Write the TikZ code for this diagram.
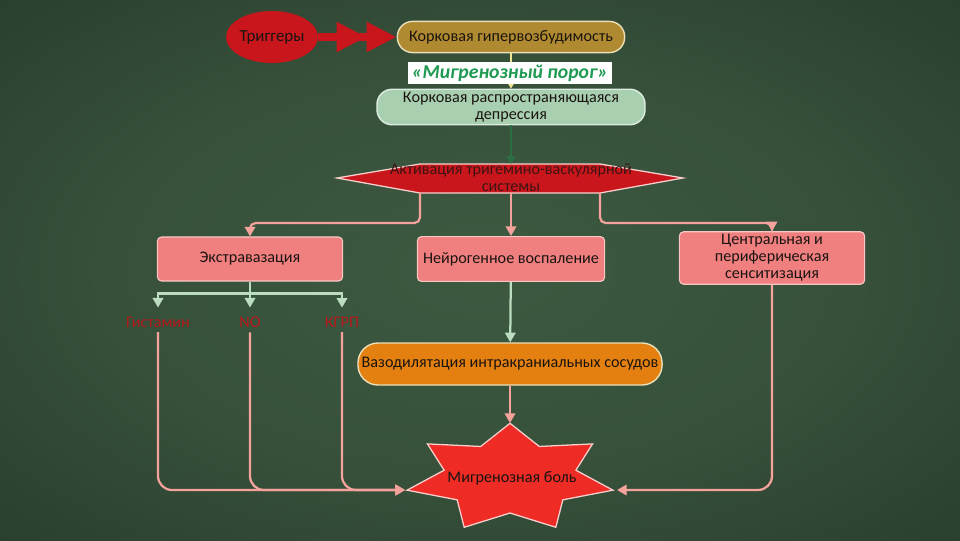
\documentclass[tikz,border=0pt]{standalone}
\usepackage{fontspec}
\setmainfont{Carlito}
\definecolor{MigBgIn}{HTML}{3D5A41}
\definecolor{MigBgOut}{HTML}{0E1610}
\definecolor{MigRed}{HTML}{C8161C}
\definecolor{MigStar}{HTML}{EE2B25}
\definecolor{MigGold}{HTML}{B08A30}
\definecolor{MigCream}{HTML}{EADFB8}
\definecolor{MigSage}{HTML}{A9CFB1}
\definecolor{MigSalmon}{HTML}{F08080}
\definecolor{MigOrange}{HTML}{E38010}
\definecolor{MigPink}{HTML}{F4A29C}
\definecolor{MigMint}{HTML}{BCDDBF}
\definecolor{MigGreen}{HTML}{1E9A52}
\definecolor{MigDeep}{HTML}{2C6E44}
\definecolor{MigLabel}{HTML}{B3181A}
\definecolor{MigDark}{HTML}{1A1410}
\usetikzlibrary{arrows.meta,positioning,shapes.geometric}
\pgfdeclareradialshading{migbg}{\pgfpoint{0bp}{0bp}}{color(0bp)=(MigBgIn); color(20bp)=(MigBgIn!85!MigBgOut); color(45bp)=(MigBgIn!45!MigBgOut); color(72bp)=(MigBgOut)}
\tikzset{
  pill/.style={draw=MigCream, line width=1pt, align=center, inner sep=2pt, text=MigDark, font=\fontsize{11.5pt}{12pt}\selectfont},
  effect/.style={draw=MigPink!60!white, fill=MigSalmon, rounded corners=3pt, align=center, minimum width=4.63cm, line width=0.8pt, inner sep=2pt, text=MigDark, font=\fontsize{11.5pt}{12pt}\selectfont},
  mediator/.style={text=MigLabel, font=\fontsize{11.5pt}{12pt}\selectfont},
  pinkarrow/.style={-{Triangle[length=2.4mm,width=2.6mm]}, line width=1.6pt, MigPink},
  mintarrow/.style={-{Triangle[length=2.4mm,width=2.6mm]}, line width=1.6pt, MigMint},
  label/.style={font=\fontsize{11.5pt}{12pt}\selectfont, text=MigDark}
}
\begin{document}
\begin{tikzpicture}[x=0.025cm, y=-0.025cm]
    \useasboundingbox (0,0) rectangle (960,540);
    \shade[shading=migbg] (0,0) rectangle (960,540);
    % top chain
    \node[ellipse, fill=MigRed, minimum width=2cm, minimum height=1.3cm, inner sep=0pt, label, font=\fontsize{12pt}{12pt}\selectfont] (trig) at (272,37) {Триггеры};
    \node[pill, fill=MigGold, minimum width=5.68cm, minimum height=0.78cm, rounded corners=0.38cm] (hyper) at (511,37) {Корковая гипервозбудимость};
    \node[pill, fill=MigSage, draw=MigSage!40!white, minimum width=6.7cm, minimum height=0.78cm, rounded corners=0.38cm] (csd) at (511,107) {Корковая распространяющаяся\\депрессия};
    \draw[-{Triangle[length=0.75cm,width=0.7cm]Triangle[length=0.75cm,width=0.7cm]}, line width=5.5pt, MigRed] (trig) -- (hyper);
    \draw[-{Triangle[length=2mm,width=2.4mm]}, line width=0.8pt, MigCream!80!yellow] (hyper) -- (csd);
    \node[fill=white, minimum width=5.1cm, minimum height=0.53cm, inner sep=0pt, text=MigGreen, font=\fontsize{14pt}{14pt}\selectfont\bfseries\itshape] (porog) at (510,73) {«Мигренозный порог»};
    % trigemino-vascular activation
    \draw[fill=MigRed, draw=MigPink!50!white, line width=0.9pt] (337,178) -- (420,164) -- (600,164) -- (683,178) -- (600,193) -- (420,193) -- cycle;
    \coordinate (tvsL) at (420,193);
    \coordinate (tvsM) at (511,193);
    \coordinate (tvsR) at (600,193);
    \coordinate (tvsT) at (511,164);
    \draw[-{Triangle[length=2mm,width=2.4mm]}, line width=1pt, MigDeep] (csd) -- (tvsT);
    \node[label, align=center, text=MigDark!80!MigRed] (tvs) at (511,178) {Активация тригемино-васкулярной\\системы};
    % three effects
    \node[effect, minimum height=1.1cm] (extr) at (250,259) {Экстравазация};
    \node[effect, minimum width=4.68cm, minimum height=1.12cm] (neuro) at (511,259) {Нейрогенное воспаление};
    \node[effect, minimum height=1.18cm] (sens) at (772,258) {Центральная и\\периферическая\\сенситизация};
    \draw[pinkarrow, rounded corners=4pt] (tvsL) -- ++(0,30) -| (extr.north);
    \draw[pinkarrow] (tvsM) -- (neuro);
    \draw[pinkarrow, rounded corners=4pt] (tvsR) -- ++(0,30) -| (sens.north);
    % mediators
    \node[mediator] (hist) at (158,322) {Гистамин};
    \node[mediator] (no) at (250,322) {NO};
    \node[mediator] (cgrp) at (342,322) {КГРП};
    \draw[MigMint, line width=1.6pt] (extr.south) -- ++(0,12) coordinate (split);
    \draw[mintarrow, shorten >=3pt] (split) -| (hist.north);
    \draw[mintarrow, shorten >=3pt] (split) -- (no.north);
    \draw[mintarrow, shorten >=3pt] (split) -| (cgrp.north);
    % vasodilation
    \node[pill, fill=MigOrange, minimum width=7.6cm, minimum height=1.05cm, rounded corners=0.5cm] (vaso) at (510,364) {Вазодилятация интракраниальных сосудов};
    \draw[mintarrow] (neuro) -- (vaso);
    % migraine pain
    \draw[fill=MigStar, draw=MigPink!50!white, line width=0.9pt] (510,423.3)
      \foreach \k [evaluate=\k as \r using {mod(\k,2)==0 ? 1 : 0.64}] in {1,...,13} { -- ({510+105.6*\r*cos(90+\k*180/7)}, {478-54.7*\r*sin(90+\k*180/7)}) } -- cycle;
    \node[label] (pain) at (512,478) {Мигренозная боль};
    \coordinate (painT) at (510,423);
    \coordinate (painL) at (405,490);
    \coordinate (painR) at (617,490);
    \draw[pinkarrow] (vaso) -- (painT);
    \draw[pinkarrow, rounded corners=0.35cm] (hist) -- (hist |- painL) -- (painL);
    \draw[pinkarrow, rounded corners=0.35cm] (no) -- (no |- painL) -- (painL);
    \draw[pinkarrow, rounded corners=0.35cm] (cgrp) -- (cgrp |- painL) -- (painL);
    \draw[pinkarrow, rounded corners=0.35cm] (sens) -- (sens |- painR) -- (painR);
  \end{tikzpicture}
\end{document}
